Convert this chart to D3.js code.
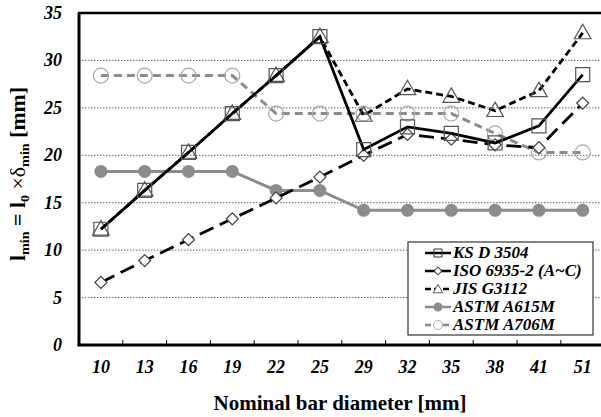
<!DOCTYPE html>
<html>
<head>
<meta charset="utf-8">
<script src="https://cdn.jsdelivr.net/npm/d3@7"></script>
<style>
  body { margin: 0; background: #fff; }
  svg { display: block; }
  text { font-family: "Liberation Serif", "Times New Roman", serif; }
</style>
</head>
<body>
<svg id="chart" width="601" height="417"></svg>
<script>
// bar sizes on the x axis
var diameters = ['10', '13', '16', '19', '22', '25', '29', '32', '35', '38', '41', '51'];
var yTicks = [0, 5, 10, 15, 20, 25, 30, 35];

// values [mm]
var ksD3504  = [12.2, 16.3, 20.3, 24.4, 28.4, 32.5, 20.6, 23.0, 22.3, 21.3, 23.1, 28.5];
var iso6935  = [6.6, 8.9, 11.1, 13.3, 15.5, 17.7, 20.0, 22.2, 21.7, 21.1, 20.8, 25.5];
var jisG3112 = [12.2, 16.3, 20.3, 24.4, 28.4, 32.5, 24.2, 27.0, 26.2, 24.7, 26.8, 32.9];
var astmA615 = [18.3, 18.3, 18.3, 18.3, 16.3, 16.3, 14.2, 14.2, 14.2, 14.2, 14.2, 14.2];
var astmA706 = [28.4, 28.4, 28.4, 28.4, 24.4, 24.4, 24.4, 24.4, 24.4, 22.3, 20.3, 20.3];

var svg = d3.select('#chart');
var pLeft = 79, pTop = 13, pBottom = 345, pRight = 79 + 12 * 43.8;

var x = d3.scaleBand().domain(diameters).range([pLeft, pRight]).padding(0);
var y = d3.scaleLinear().domain([0, 35]).range([pBottom, pTop]);
var cx = function(d, i) { return x(diameters[i]) + x.bandwidth() / 2; };

// dotted grid lines
svg.append('g').selectAll('line')
    .data(yTicks.filter(function(t) { return t > 0 && t < 35; }))
    .enter().append('line')
    .attr('x1', pLeft).attr('x2', 601)
    .attr('y1', function(d) { return y(d); })
    .attr('y2', function(d) { return y(d); })
    .attr('stroke', '#666').attr('stroke-width', 1)
    .attr('stroke-dasharray', '1.5,1.5');

// y tick labels
svg.append('g').selectAll('text')
    .data(yTicks).enter().append('text')
    .attr('x', 62).attr('y', function(d) { return y(d) + 6; })
    .attr('text-anchor', 'end')
    .style('font-size', '18px').style('font-weight', 'bold').style('font-style', 'italic')
    .text(function(d) { return d; });

// x axis
var xAxis = d3.axisBottom(x).tickSize(0).tickPadding(15);
var gx = svg.append('g').attr('transform', 'translate(0,' + pBottom + ')').call(xAxis);
gx.select('.domain').remove();
gx.selectAll('text')
    .style('font-family', '"Liberation Serif", serif')
    .style('font-size', '18px').style('font-weight', 'bold').style('font-style', 'italic')
    .attr('fill', '#000');

// inward ticks between categories
svg.append('g').selectAll('line')
    .data(diameters.slice(1)).enter().append('line')
    .attr('x1', function(d) { return x(d); }).attr('x2', function(d) { return x(d); })
    .attr('y1', pBottom).attr('y2', pBottom - 5)
    .attr('stroke', '#000').attr('stroke-width', 1);

// frame
svg.append('line').attr('x1', pLeft - 1).attr('x2', 601).attr('y1', pTop).attr('y2', pTop)
    .attr('stroke', '#000').attr('stroke-width', 2.5);
svg.append('line').attr('x1', pLeft).attr('x2', pLeft).attr('y1', pTop).attr('y2', pBottom)
    .attr('stroke', '#000').attr('stroke-width', 3);
svg.append('line').attr('x1', pLeft - 1.5).attr('x2', 601).attr('y1', pBottom).attr('y2', pBottom)
    .attr('stroke', '#000').attr('stroke-width', 3);

var line = d3.line().x(cx).y(function(d) { return y(d); });

function drawSeries(vals, color, width, dash) {
    svg.append('path').datum(vals)
        .attr('d', line)
        .attr('fill', 'none')
        .attr('stroke', color)
        .attr('stroke-width', width)
        .attr('stroke-dasharray', dash);
}

var sqr = d3.symbol().type(d3.symbolSquare).size(196);
var tri = d3.symbol().type(d3.symbolTriangle).size(120);
var dia = d3.symbol().type(d3.symbolSquare).size(72);

function drawMarks(vals, sym, fill, stroke, dy, rot) {
    svg.append('g').selectAll('path')
        .data(vals).enter().append('path')
        .attr('d', sym)
        .attr('transform', function(d, i) {
            return 'translate(' + cx(d, i) + ',' + (y(d) + (dy || 0)) + ') rotate(' + (rot || 0) + ')';
        })
        .attr('fill', fill).attr('stroke', stroke).attr('stroke-width', 1.2);
}

// ASTM A706M
drawSeries(astmA706, '#8c8c8c', 3, '8,5');
svg.append('g').selectAll('circle')
    .data(astmA706).enter().append('circle')
    .attr('cx', cx).attr('cy', function(d) { return y(d); })
    .attr('r', 7.5).attr('fill', 'none').attr('stroke', '#aaa').attr('stroke-width', 1.2);

// ASTM A615M
drawSeries(astmA615, '#8c8c8c', 3, null);
svg.append('g').selectAll('circle')
    .data(astmA615).enter().append('circle')
    .attr('cx', cx).attr('cy', function(d) { return y(d); })
    .attr('r', 6.5).attr('fill', '#8c8c8c');

// ISO 6935-2
drawSeries(iso6935, '#000', 2.8, '15,7');
drawMarks(iso6935, dia, '#fff', '#444', 0, 45);

// JIS G3112
drawSeries(jisG3112, '#000', 2.8, '7,4');
drawMarks(jisG3112, tri, 'none', '#555', 1);

// KS D 3504
drawSeries(ksD3504, '#000', 2.8, null);
drawMarks(ksD3504, sqr, 'none', '#555');

// legend
var legendNames = ['KS D 3504', 'ISO 6935-2 (A~C)', 'JIS G3112', 'ASTM A615M', 'ASTM A706M'];
var lg = svg.append('g').attr('transform', 'translate(408,242)');
lg.append('rect').attr('width', 185).attr('height', 93)
    .attr('fill', '#fff').attr('stroke', '#333').attr('stroke-width', 1.2);
var ly = function(i) { return 11 + i * 18; };
var sample = [
    { color: '#000', dash: null },
    { color: '#000', dash: null },
    { color: '#000', dash: '6,3' },
    { color: '#8c8c8c', dash: null },
    { color: '#8c8c8c', dash: '6,3' }
];
lg.selectAll('line.s').data(sample).enter().append('line')
    .attr('x1', 17).attr('x2', 43)
    .attr('y1', function(d, i) { return ly(i); }).attr('y2', function(d, i) { return ly(i); })
    .attr('stroke', function(d) { return d.color; }).attr('stroke-width', 2.5)
    .attr('stroke-dasharray', function(d) { return d.dash; });
var lsq = d3.symbol().type(d3.symbolSquare).size(64);
var ltr = d3.symbol().type(d3.symbolTriangle).size(40);
var ldi = d3.symbol().type(d3.symbolSquare).size(30);
lg.append('path').attr('d', lsq).attr('transform', 'translate(30,' + ly(0) + ')')
    .attr('fill', 'none').attr('stroke', '#333');
lg.append('path').attr('d', ldi).attr('transform', 'translate(30,' + ly(1) + ') rotate(45)')
    .attr('fill', '#fff').attr('stroke', '#333');
lg.append('path').attr('d', ltr).attr('transform', 'translate(30,' + (ly(2) + 1) + ')')
    .attr('fill', '#fff').attr('stroke', '#555');
lg.append('circle').attr('cx', 30).attr('cy', ly(3)).attr('r', 4.5).attr('fill', '#8c8c8c');
lg.append('circle').attr('cx', 30).attr('cy', ly(4)).attr('r', 4.5)
    .attr('fill', '#fff').attr('stroke', '#aaa');
lg.selectAll('text').data(legendNames).enter().append('text')
    .attr('x', 45).attr('y', function(d, i) { return ly(i) + 5; })
    .style('font-size', '17px').style('font-weight', 'bold').style('font-style', 'italic')
    .text(function(d) { return d; });

// axis titles
svg.append('text')
    .attr('x', 340).attr('y', 410)
    .attr('text-anchor', 'middle')
    .style('font-size', '21px').style('font-weight', 'bold')
    .text('Nominal bar diameter [mm]');

var yt = svg.append('text')
    .attr('transform', 'translate(25,174) rotate(-90)')
    .attr('text-anchor', 'middle')
    .attr('textLength', 174).attr('lengthAdjust', 'spacingAndGlyphs')
    .style('font-size', '20px').style('font-weight', 'bold');
yt.append('tspan').text('l');
yt.append('tspan').attr('dy', 4).style('font-size', '13px').text('min');
yt.append('tspan').attr('dy', -4).text(' = l');
yt.append('tspan').attr('dy', 4).style('font-size', '13px').text('0');
yt.append('tspan').attr('dy', -4).style('font-weight', 'normal').text(' ×');
yt.append('tspan').style('font-weight', 'normal').text('δ');
yt.append('tspan').attr('dy', 4).style('font-size', '13px').text('min');
yt.append('tspan').attr('dy', -4).text(' [mm]');
</script>
</body>
</html>
